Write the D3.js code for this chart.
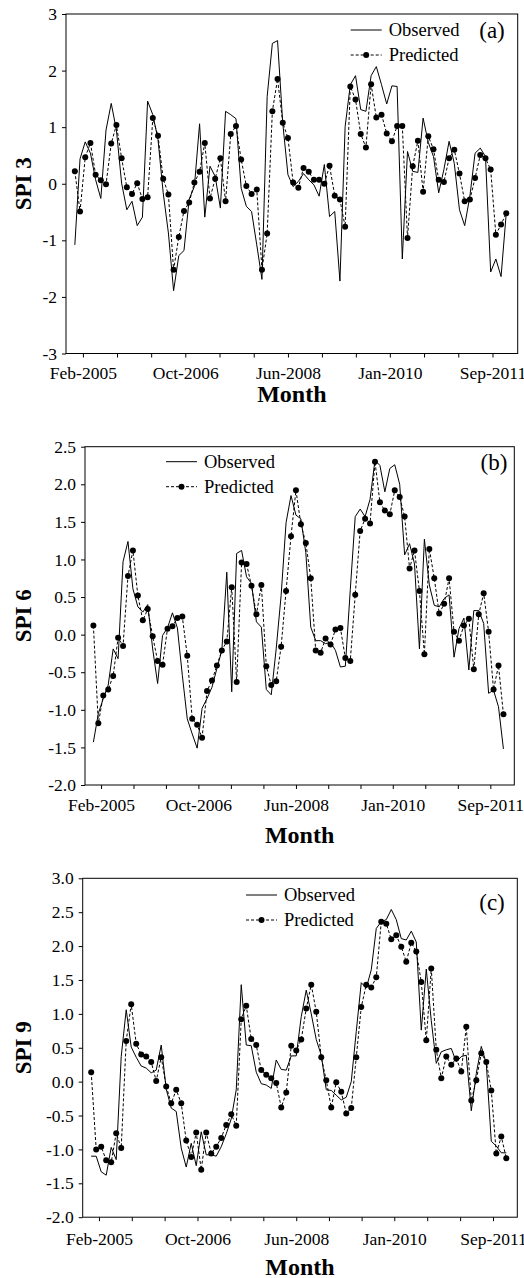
<!DOCTYPE html>
<html><head><meta charset="utf-8">
<script src="https://cdn.jsdelivr.net/npm/d3@7"></script>
<style>body{margin:0;background:#fff}svg{display:block}</style>
</head><body>
<svg id="chart" width="524" height="1278"></svg>
<script>
// ---- data (monthly index 0 = Jan-2005 ... 83 = Dec-2011) ----
const tickLabels = ["Feb-2005","Oct-2006","Jun-2008","Jan-2010","Sep-2011"];
const tickIndex = [1.55, 21.25, 41.0, 60.6, 80.35];
const seriesNames = ["Observed","Predicted"];

const spi3Observed = [-1.08,0.44,0.74,0.54,0.07,-0.26,0.95,1.42,0.95,0.01,-0.46,-0.31,-0.74,-0.59,1.46,1.22,0.78,-0.16,-0.87,-1.89,
-1.27,-1.18,-0.27,-0.05,1.06,-0.59,0.31,0.13,-0.43,1.28,1.22,1.15,-0.08,-0.4,-0.49,-1.08,-1.69,1.54,2.48,2.53,
1.07,0.16,-0.05,0.04,0.18,0.07,-0.02,-0.22,0.34,-0.58,-0.49,-1.72,1.01,1.75,1.91,1.31,1.28,1.91,2.07,1.75,
1.41,1.73,1.72,-1.33,0.57,0.22,0.2,1.16,0.73,0.48,-0.16,0.25,0.75,0.36,-0.46,-0.74,-0.22,0.54,0.63,0.48,
-1.56,-1.33,-1.64,-0.52];
const spi3Predicted = [0.22,-0.49,0.47,0.72,0.16,0.06,-0.01,0.71,1.04,0.45,-0.06,-0.18,0.01,-0.27,-0.24,1.16,0.85,0.09,-0.19,-1.52,
-0.94,-0.48,-0.33,0.02,0.21,0.72,-0.26,0.09,0.45,-0.31,0.88,1.02,0.43,-0.04,-0.18,-0.1,-1.52,-0.88,1.28,1.85,
1.08,0.81,0.02,-0.07,0.28,0.21,0.07,0.07,0.0,0.32,-0.21,-0.28,-0.76,1.72,1.49,0.88,0.64,1.76,1.17,1.22,
0.89,0.75,1.02,1.02,-0.96,0.31,0.76,-0.14,0.84,0.61,0.07,0.03,0.45,0.6,0.18,-0.31,-0.28,0.1,0.51,0.45,
0.25,-0.9,-0.72,-0.52];

const spi6Observed = [-1.43,-1.05,-0.85,-0.67,-0.19,-0.32,0.97,1.24,0.61,0.37,0.3,0.4,-0.19,-0.65,-0.01,0.09,0.29,0.09,-0.54,-1.12,
-1.32,-1.51,-0.98,-0.85,-0.7,-0.45,-0.21,0.83,-0.76,1.08,1.12,0.77,0.68,0.17,0.1,-0.73,-0.8,-0.19,0.52,1.49,
1.85,1.59,1.54,1.09,0.1,-0.08,-0.08,-0.12,-0.1,-0.21,-0.43,-0.42,0.6,1.57,1.67,1.57,1.8,2.32,2.25,1.9,
2.21,2.26,2.0,1.06,1.21,0.94,-0.19,1.27,0.66,0.39,0.37,0.48,0.53,-0.3,0.08,0.22,-0.47,0.32,0.32,0.15,
-0.78,-0.74,-0.96,-1.52];
const spi6Predicted = [0.12,-1.18,-0.81,-0.73,-0.55,-0.04,-0.15,0.78,1.12,0.52,0.19,0.34,-0.02,-0.35,-0.4,0.08,0.11,0.22,0.24,-0.28,
-1.12,-1.2,-1.37,-0.75,-0.61,-0.41,-0.21,-0.09,0.63,-0.63,0.96,0.94,0.65,0.27,0.66,-0.42,-0.67,-0.62,-0.16,0.58,
1.31,1.92,1.47,1.22,0.75,-0.21,-0.24,-0.05,-0.13,0.07,0.09,-0.31,-0.35,0.53,1.38,1.54,1.48,2.3,1.76,1.65,
1.6,1.92,1.83,1.57,0.88,1.12,0.58,-0.26,1.14,0.75,0.28,0.41,0.75,0.04,-0.08,0.12,0.21,-0.46,0.27,0.55,
0.04,-0.73,-0.41,-1.06];

const spi9Observed = [-1.1,-1.1,-1.33,-1.38,-0.97,-1.15,0.37,1.06,0.51,0.36,0.23,0.2,0.13,0.17,0.54,-0.11,-0.39,-0.44,-0.98,-1.26,
-0.91,-1.24,-0.74,-1.08,-1.08,-1.1,-0.96,-0.77,-0.55,-0.12,1.43,0.54,0.53,0.14,-0.03,-0.05,-0.1,0.32,0.18,0.17,
0.38,0.38,0.96,1.35,1.0,0.62,0.39,-0.12,-0.13,-0.2,-0.27,-0.23,0.0,0.74,1.46,1.38,1.65,2.26,2.36,2.39,
2.54,2.39,2.11,2.09,2.22,2.06,0.76,1.66,0.9,0.27,0.44,0.47,0.49,0.29,0.37,0.39,-0.43,0.12,0.52,0.27,
-0.88,-0.95,-1.05,-1.05];
const spi9Predicted = [0.14,-1.0,-0.96,-1.16,-1.19,-0.76,-0.98,0.6,1.14,0.56,0.4,0.37,0.29,0.01,0.36,-0.07,-0.32,-0.12,-0.32,-0.87,
-1.11,-0.75,-1.3,-0.75,-1.06,-0.96,-0.83,-0.64,-0.48,-0.65,0.92,1.12,0.63,0.54,0.17,0.1,0.05,-0.02,-0.38,-0.16,
0.53,0.46,0.62,1.08,1.43,1.03,0.36,0.02,-0.38,-0.01,-0.15,-0.47,-0.39,0.36,1.1,1.43,1.39,1.54,2.36,2.33,
2.1,2.16,1.99,1.77,2.05,1.92,1.47,0.61,1.67,0.47,0.05,0.37,0.25,0.34,0.15,0.81,-0.28,0.02,0.42,0.29,
-0.13,-1.06,-0.81,-1.13];

const panels = [
  {obs: spi3Observed, pred: spi3Predicted, yLabel: "SPI 3", tag: "(a)", yMin: -3, yMax: 3, yStep: 1, dec: 0,
   box: [66, 517.7, 14, 353.5], legend: [350.7, 30], tagPos: [492, 30], yLabelX: 23, xPad: 9, monthDy: 48.5},
  {obs: spi6Observed, pred: spi6Predicted, yLabel: "SPI 6", tag: "(b)", yMin: -2, yMax: 2.5, yStep: 0.5, dec: 1,
   box: [85, 514.3, 446.7, 785], legend: [166, 461.7], tagPos: [494, 462], yLabelX: 23, xPad: 10, monthDy: 58},
  {obs: spi9Observed, pred: spi9Predicted, yLabel: "SPI 9", tag: "(c)", yMin: -2, yMax: 3, yStep: 0.5, dec: 1,
   box: [82.7, 517.3, 878.3, 1217.2], legend: [246, 895], tagPos: [492, 902], yLabelX: 23, xPad: 11, monthDy: 57.5}
];

const FONT = "'Liberation Serif','Times New Roman',serif";
const svg = d3.select("#chart");

panels.forEach(p => {
  const [x0, x1, y0, y1] = p.box;
  const x = d3.scaleLinear().domain([-1.7, 85.2]).range([x0, x1]);
  const y = d3.scaleLinear().domain([p.yMin, p.yMax]).range([y1, y0]);
  const g = svg.append("g");

  // y axis ticks
  const yTicks = d3.range(p.yMin, p.yMax + p.yStep / 2, p.yStep);
  const yAxis = d3.axisLeft(y).tickValues(yTicks).tickSize(4).tickPadding(5)
    .tickFormat(d => d.toFixed(p.dec).replace("\u2212", "-"));
  const ya = g.append("g").attr("transform", `translate(${x0},0)`).call(yAxis);
  ya.attr("font-family", null);
  ya.select(".domain").remove();
  ya.selectAll("text").style("font-family", FONT).style("font-size", "17.5px").attr("fill", "#000");

  // x axis ticks: labelled + two minor between each pair
  const allTicks = [];
  for (let k = 0; k < tickIndex.length; k++) {
    allTicks.push(tickIndex[k]);
    if (k < tickIndex.length - 1) {
      const s = (tickIndex[k + 1] - tickIndex[k]) / 3;
      allTicks.push(tickIndex[k] + s, tickIndex[k] + 2 * s);
    }
  }
  const xAxis = d3.axisBottom(x).tickValues(allTicks).tickSize(4).tickPadding(p.xPad)
    .tickFormat(d => { const i = tickIndex.indexOf(d); return i >= 0 ? tickLabels[i] : ""; });
  const xa = g.append("g").attr("transform", `translate(0,${y1})`).call(xAxis);
  xa.attr("font-family", null);
  xa.select(".domain").remove();
  xa.selectAll("text").style("font-family", FONT).style("font-size", "17.5px").attr("fill", "#000");

  // frame
  g.append("rect").attr("x", x0).attr("y", y0).attr("width", x1 - x0).attr("height", y1 - y0)
    .attr("fill", "none").attr("stroke", "#000").attr("stroke-width", 1);

  const idx = d3.range(p.obs.length);
  const line = arr => d3.line().x(i => x(i)).y(i => y(arr[i]))(idx);

  g.append("path").attr("d", line(p.obs)).attr("fill", "none").attr("stroke", "#000").attr("stroke-width", 1);
  g.append("path").attr("d", line(p.pred)).attr("fill", "none").attr("stroke", "#000")
    .attr("stroke-width", 1).attr("stroke-dasharray", "3,2");
  g.append("g").selectAll("circle").data(idx).join("circle")
    .attr("cx", i => x(i)).attr("cy", i => y(p.pred[i])).attr("r", 3).attr("fill", "#000");

  // legend
  const [lx, ly] = p.legend;
  g.append("line").attr("x1", lx).attr("x2", lx + 31).attr("y1", ly).attr("y2", ly)
    .attr("stroke", "#000").attr("stroke-width", 1);
  g.append("line").attr("x1", lx).attr("x2", lx + 31).attr("y1", ly + 25).attr("y2", ly + 25)
    .attr("stroke", "#000").attr("stroke-width", 1).attr("stroke-dasharray", "3,2");
  g.append("circle").attr("cx", lx + 15.5).attr("cy", ly + 25).attr("r", 3).attr("fill", "#000");
  seriesNames.forEach((n, k) => {
    g.append("text").attr("x", lx + 38).attr("y", ly + 25 * k).attr("dy", "0.32em")
      .style("font-family", FONT).style("font-size", "18.5px").text(n);
  });

  // panel tag
  g.append("text").attr("x", p.tagPos[0]).attr("y", p.tagPos[1]).attr("dy", "0.35em")
    .attr("text-anchor", "middle").style("font-family", FONT).style("font-size", "23px").text(p.tag);

  // axis titles
  g.append("text").attr("x", (x0 + x1) / 2).attr("y", y1 + p.monthDy)
    .attr("text-anchor", "middle").style("font-family", FONT).style("font-size", "24px")
    .style("font-weight", "bold").text("Month");
  g.append("text").attr("transform", `translate(${p.yLabelX},${(y0 + y1) / 2}) rotate(-90)`)
    .attr("dy", "0.35em").attr("text-anchor", "middle").style("font-family", FONT)
    .style("font-size", "23px").style("font-weight", "bold").text(p.yLabel);
});
</script>
</body></html>
